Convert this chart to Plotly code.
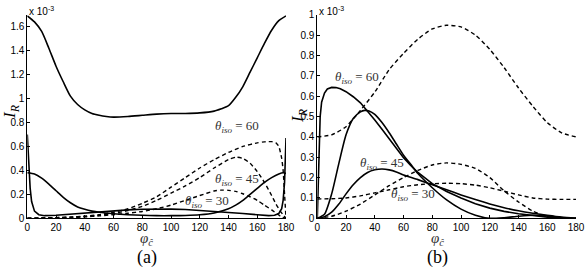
import plotly.graph_objects as go

# ---------------- Panel (a) data (values in units of 1e-3) ----------------
phi_a_top = [0, 5, 10, 15, 20, 25, 30, 35, 40, 45, 50, 55, 60, 70, 80, 90, 100, 110, 120, 130, 135, 140, 145, 150, 155, 160, 165, 170, 175, 180]
ir_a_top = [1.69, 1.64, 1.56, 1.42, 1.27, 1.14, 1.02, 0.95, 0.905, 0.875, 0.86, 0.85, 0.845, 0.85, 0.86, 0.87, 0.875, 0.875, 0.88, 0.895, 0.915, 0.94, 1.01, 1.10, 1.22, 1.34, 1.46, 1.57, 1.65, 1.69]

phi_a_s2 = [0, 5, 10, 15, 20, 25, 30, 35, 40, 45, 50, 60, 70, 80, 90, 100, 110, 120, 130, 140, 145, 150, 155, 160, 165, 170, 175, 178, 180]
ir_a_s2 = [0.38, 0.37, 0.335, 0.285, 0.23, 0.175, 0.13, 0.095, 0.075, 0.06, 0.05, 0.038, 0.03, 0.025, 0.022, 0.022, 0.024, 0.03, 0.045, 0.08, 0.11, 0.15, 0.2, 0.25, 0.3, 0.34, 0.37, 0.38, 0.375]

phi_a_s3 = [0, 1, 2, 3, 5, 8, 12, 20, 30, 40, 50, 60, 70, 80, 90, 100, 110, 120, 130, 140, 150, 160, 168, 172, 175, 177, 178, 179, 180]
ir_a_s3 = [0.70, 0.45, 0.25, 0.14, 0.06, 0.03, 0.022, 0.025, 0.035, 0.045, 0.055, 0.063, 0.07, 0.075, 0.078, 0.077, 0.073, 0.066, 0.058, 0.05, 0.04, 0.03, 0.022, 0.025, 0.04, 0.08, 0.15, 0.3, 0.67]

phi_a_d60 = [0, 10, 20, 30, 40, 50, 60, 70, 80, 90, 100, 110, 120, 130, 140, 150, 160, 165, 170, 173, 175, 177, 178, 179, 180]
ir_a_d60 = [0, 0.003, 0.006, 0.01, 0.018, 0.03, 0.05, 0.08, 0.125, 0.18, 0.26, 0.34, 0.42, 0.49, 0.55, 0.6, 0.63, 0.638, 0.64, 0.63, 0.6, 0.5, 0.4, 0.2, 0]

phi_a_d45 = [0, 10, 20, 30, 40, 50, 60, 70, 80, 90, 100, 110, 120, 130, 140, 145, 150, 155, 160, 165, 170, 173, 176, 178, 180]
ir_a_d45 = [0, 0.002, 0.005, 0.01, 0.015, 0.025, 0.04, 0.065, 0.1, 0.15, 0.21, 0.27, 0.34, 0.42, 0.49, 0.51, 0.5, 0.46, 0.39, 0.3, 0.19, 0.12, 0.06, 0.03, 0]

phi_a_d30 = [0, 10, 20, 30, 40, 50, 60, 70, 80, 90, 100, 110, 120, 130, 135, 140, 145, 150, 155, 160, 165, 170, 174, 177, 180]
ir_a_d30 = [0, 0.002, 0.004, 0.007, 0.012, 0.02, 0.03, 0.042, 0.057, 0.08, 0.11, 0.15, 0.19, 0.228, 0.235, 0.233, 0.225, 0.205, 0.18, 0.15, 0.11, 0.07, 0.035, 0.01, 0]

# ---------------- Panel (b) data (values in units of 1e-3) ----------------
phi_b_s60 = [0, 1, 2, 3, 5, 7, 10, 13, 16, 20, 25, 30, 35, 40, 45, 50, 55, 60, 65, 70, 80, 90, 100, 110, 120, 130, 140, 150, 160, 170, 180]
ir_b_s60 = [0, 0.3, 0.5, 0.57, 0.615, 0.635, 0.643, 0.642, 0.636, 0.622, 0.597, 0.567, 0.527, 0.483, 0.437, 0.39, 0.343, 0.298, 0.26, 0.225, 0.17, 0.132, 0.1, 0.072, 0.05, 0.034, 0.022, 0.013, 0.006, 0.002, 0]

phi_b_s45 = [0, 5, 10, 15, 20, 25, 30, 33, 36, 40, 45, 50, 55, 60, 65, 70, 80, 90, 100, 110, 120, 130, 140, 150, 160, 170, 180]
ir_b_s45 = [0, 0.02, 0.12, 0.27, 0.41, 0.49, 0.523, 0.53, 0.527, 0.51, 0.47, 0.42, 0.365, 0.31, 0.265, 0.22, 0.15, 0.09, 0.045, 0.015, 0.0, 0.003, 0.01, 0.015, 0.012, 0.003, 0]

phi_b_s30 = [0, 5, 10, 15, 20, 25, 30, 35, 40, 45, 50, 55, 60, 70, 80, 90, 100, 110, 120, 130, 140, 150, 160, 170, 180]
ir_b_s30 = [0, 0.008, 0.03, 0.07, 0.12, 0.165, 0.2, 0.225, 0.238, 0.242, 0.238, 0.228, 0.213, 0.19, 0.165, 0.14, 0.115, 0.092, 0.07, 0.052, 0.037, 0.025, 0.015, 0.006, 0]

phi_b_dash = [0, 10, 20, 30, 40, 50, 60, 70, 80, 90, 100, 110, 120, 130, 140, 150, 160, 170, 180]
ir_b_d60 = [0.40, 0.41, 0.45, 0.53, 0.62, 0.73, 0.81, 0.88, 0.93, 0.948, 0.94, 0.9, 0.83, 0.74, 0.64, 0.55, 0.47, 0.42, 0.40]
ir_b_d45 = [0, 0.01, 0.035, 0.07, 0.115, 0.16, 0.2, 0.235, 0.262, 0.272, 0.265, 0.245, 0.2, 0.135, 0.08, 0.035, 0.008, 0.0, 0]
ir_b_d30 = [0.095, 0.096, 0.1, 0.11, 0.125, 0.14, 0.155, 0.165, 0.17, 0.172, 0.17, 0.163, 0.15, 0.133, 0.115, 0.1, 0.094, 0.093, 0.093]

# ---------------- Axis ticks ----------------
x_ticks = [0, 20, 40, 60, 80, 100, 120, 140, 160, 180]
y_ticks_a = [0, 0.2, 0.4, 0.6, 0.8, 1.0, 1.2, 1.4, 1.6]
y_ticktext_a = ["0", "0.2", "0.4", "0.6", "0.8", "1", "1.2", "1.4", "1.6"]
y_ticks_b = [0, 0.1, 0.2, 0.3, 0.4, 0.5, 0.6, 0.7, 0.8, 0.9, 1.0]
y_ticktext_b = ["0", "0.1", "0.2", "0.3", "0.4", "0.5", "0.6", "0.7", "0.8", "0.9", "1"]

SOLID = dict(color="black", width=1.6)
DASHED = dict(color="black", width=1.4, dash="4px,3px")

fig = go.Figure()

def add(x, y, line, xa, ya, shape="spline"):
    fig.add_trace(go.Scatter(x=x, y=y, mode="lines", line=dict(shape=shape, smoothing=0.6, **line),
                             xaxis=xa, yaxis=ya, showlegend=False, hoverinfo="skip"))

# panel a
add(phi_a_top, ir_a_top, SOLID, "x", "y")
add(phi_a_s2, ir_a_s2, SOLID, "x", "y")
add(phi_a_s3, ir_a_s3, SOLID, "x", "y", shape="linear")
add(phi_a_d60, ir_a_d60, DASHED, "x", "y")
add(phi_a_d45, ir_a_d45, DASHED, "x", "y")
add(phi_a_d30, ir_a_d30, DASHED, "x", "y")
# panel b
add(phi_b_dash, ir_b_d60, DASHED, "x2", "y2")
add(phi_b_dash, ir_b_d45, DASHED, "x2", "y2")
add(phi_b_dash, ir_b_d30, DASHED, "x2", "y2")
add(phi_b_s60, ir_b_s60, SOLID, "x2", "y2", shape="linear")
add(phi_b_s45, ir_b_s45, SOLID, "x2", "y2")
add(phi_b_s30, ir_b_s30, SOLID, "x2", "y2")

W, H = 587, 268
ydom = [1 - 218.3 / H, 1 - 14.7 / H]
tickfont = dict(family="Liberation Sans, Arial, sans-serif", size=10, color="black")

def xax(dom):
    return dict(domain=dom, range=[0, 180], tickvals=x_ticks, ticks="inside", ticklen=3,
                showline=True, linecolor="black", linewidth=1, mirror=False, showgrid=False,
                zeroline=False, tickfont=tickfont, tickcolor="black", fixedrange=True, automargin=False)

def yax(rng, tv, tt, anchor):
    return dict(domain=ydom, range=rng, tickvals=tv, ticktext=tt, ticks="inside", ticklen=3,
                showline=True, linecolor="black", linewidth=1, mirror=False, showgrid=False,
                zeroline=False, tickfont=tickfont, tickcolor="black", anchor=anchor, fixedrange=True,
                automargin=False)

xa = xax([27.3 / W, 286.0 / W]); xa["anchor"] = "y"
xb = xax([317.3 / W, 576.0 / W]); xb["anchor"] = "y2"

serif = "Liberation Serif, Times New Roman, serif"
mathfont = dict(family=serif, size=13, color="#333333")

ann = []
# x 10^-3 multipliers
for xr, yr in (("x domain", "y domain"), ("x2 domain", "y2 domain")):
    ann.append(dict(text="x 10<sup>-3</sup>", xref=xr, yref=yr, x=0.0, y=1.0, xanchor="left",
                    yanchor="bottom", showarrow=False,
                    font=dict(family="Liberation Sans, Arial", size=10, color="black"),
                    xshift=0, yshift=-4))
# I_R labels
ann.append(dict(text="<i>I<sub>R</sub></i>", xref="paper", yref="paper", x=11 / W, y=1 - 112 / H,
                xanchor="center", yanchor="middle",
                textangle=-90, showarrow=False, font=dict(family=serif, size=17, color="black")))
ann.append(dict(text="<i>I<sub>R</sub></i>", xref="paper", yref="paper", x=299 / W, y=1 - 116 / H,
                xanchor="center", yanchor="middle",
                textangle=-90, showarrow=False, font=dict(family=serif, size=17, color="black")))
# phi labels and panel letters
for cx, letter in ((147, "(a)"), (437, "(b)")):
    ann.append(dict(text="<i>φ<sub>ĉ</sub></i>", xref="paper", yref="paper", x=cx / W, y=1 - 239 / H,
                    xanchor="center", yanchor="middle",
                    showarrow=False, font=dict(family=serif, size=15, color="#333333")))
    ann.append(dict(text=letter, xref="paper", yref="paper", x=cx / W, y=1 - 257 / H,
                    xanchor="center", yanchor="middle",
                    showarrow=False, font=dict(family=serif, size=18, color="black")))
# theta labels
theta_a = [(146, 0.77, "60"), (146, 0.32, "45"), (125, 0.137, "30")]
theta_b = [(27.6, 0.69, "60"), (45, 0.27, "45"), (66.6, 0.115, "30")]
for x, y, t in theta_a:
    ann.append(dict(text=f"<i>θ<sub>iso</sub></i> = {t}", xref="x", yref="y", x=x, y=y,
                    xanchor="center", yanchor="middle", showarrow=False, font=mathfont))
for x, y, t in theta_b:
    ann.append(dict(text=f"<i>θ<sub>iso</sub></i> = {t}", xref="x2", yref="y2", x=x, y=y,
                    xanchor="center", yanchor="middle", showarrow=False, font=mathfont))

fig.update_layout(
    width=W, height=H, margin=dict(l=0, r=0, t=0, b=0),
    paper_bgcolor="white", plot_bgcolor="white",
    xaxis=xa, xaxis2=xb,
    yaxis=yax([0, 1.7], y_ticks_a, y_ticktext_a, "x"),
    yaxis2=yax([0, 1.0], y_ticks_b, y_ticktext_b, "x2"),
    annotations=ann, showlegend=False,
)

fig.write_html("out.html", config={"displayModeBar": False, "staticPlot": True},
               post_script="document.body.style.margin='0';document.body.style.padding='0';document.body.style.overflow='hidden';")
